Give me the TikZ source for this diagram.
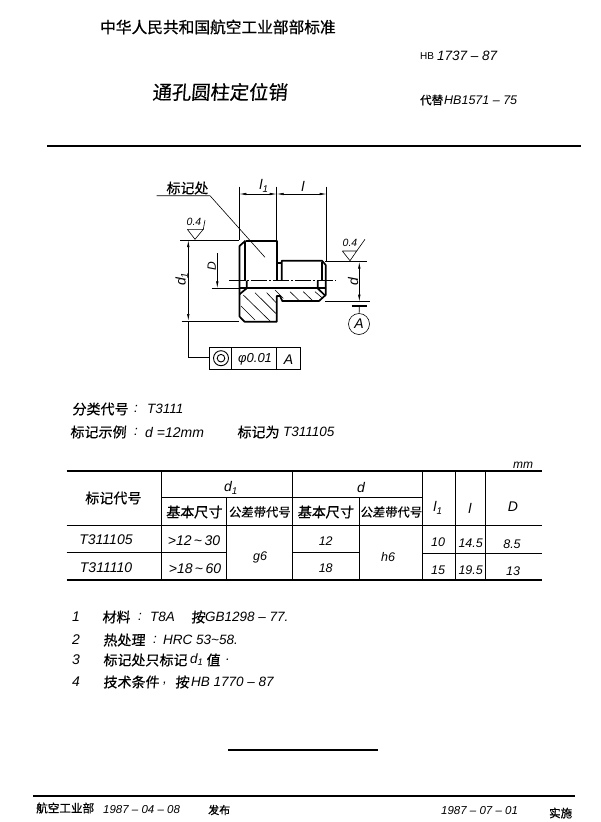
\documentclass[tikz,border=0pt]{standalone}
\usepackage{fontspec}
\setmainfont{Liberation Sans}
\newfontfamily\cjk[FakeSlant=0.08,FakeBold=0.4]{Noto Sans CJK SC}
\newfontfamily\cjkhead[FakeBold=0.7]{Noto Sans CJK SC}
\usetikzlibrary{calc}
\usetikzlibrary{arrows.meta}

\tikzset{
  outline/.style={black, line width=1.7pt, line join=round},
  thinline/.style={black, line width=0.6pt},
  hatchline/.style={black, line width=0.6pt},
  axisline/.style={black, line width=0.6pt, dash pattern=on 16pt off 2pt on 2pt off 2pt},
  dimline/.style={black, line width=0.6pt, {Latex[length=7pt,width=2.5pt]}-{Latex[length=7pt,width=2.5pt]}},
  rulethick/.style={black, line width=1.5pt},
  hand/.style={inner sep=0, anchor=west, font=\fontsize{14}{14}\selectfont\cjk},
  handsmall/.style={inner sep=0, font=\fontsize{12.3}{13}\selectfont\cjk},
  numtext/.style={inner sep=0, anchor=west, font=\fontsize{13.5}{14}\selectfont\itshape},
  celltext/.style={inner sep=0, font=\fontsize{12.5}{13}\selectfont\itshape},
  dimtext/.style={inner sep=0, font=\fontsize{14}{14}\selectfont\itshape},
}

\begin{document}
\begin{tikzpicture}[x=1pt, y=-1pt]
\useasboundingbox (0,0) rectangle (600,822);

% header
\node[inner sep=0, anchor=west, font=\fontsize{15.7}{16}\selectfont\cjkhead] (head) at (100,27) {中华人民共和国航空工业部部标准};
\node[inner sep=0, anchor=west, font=\fontsize{10}{10}\selectfont] (hbtag) at (420,56) {HB};
\node[numtext] (hbnum) at (437,56) {1737 – 87};
\node[hand, font=\fontsize{19.3}{20}\selectfont\cjk] (title) at (152,92) {通孔圆柱定位销};
\node[inner sep=0, anchor=west, font=\fontsize{11.5}{12}\selectfont\cjkhead] (subst) at (420,100) {代替};
\node[numtext, font=\fontsize{12.5}{13}\selectfont\itshape] (substnum) at (444,100) {HB1571 – 75};
\coordinate (ruleA) at (47,146);
\coordinate (ruleB) at (581,146);
\draw[rulethick] (ruleA) -- (ruleB);

% part
\draw[outline] (245.5,240.7) -- (276.7,240.7) -- (276.7,280.5);
\draw[outline] (245.5,240.7) -- (239.5,246) -- (239.5,316.5) -- (244.5,321.7) -- (276.7,321.7) -- (276.7,296)
  -- (280,296) -- (282.3,301) -- (319,301) -- (325.7,295) -- (325.7,265) -- (322,260.7) -- (281.7,260.7) -- (281.7,280.5);
\draw[outline] (276.7,263.3) -- (281.7,263.3);
\draw[outline] (239.5,288.3) -- (325.7,288.3);
\draw[outline] (245,241.7) -- (245,280.5);
\draw[outline] (246.7,280.5) -- (246.7,288.3) -- (239.5,294.3);
\draw[outline] (322,262) -- (322,280.5);
\draw[outline] (317.7,280.5) -- (317.7,288.3) -- (324.5,295);

\foreach \xa/\ya/\xb/\yb in {243.3/295/270.7/321.7, 255/292.7/275.7/313.3, 266.7/292.7/276.7/303.3, 241/306/255/320,
  275/290/283.3/298.3, 290/291.7/299.3/300.7, 303.3/291.7/312.7/300.7, 315/291.7/322.7/298.3}
  \draw[hatchline] (\xa,\ya) -- (\xb,\yb);

\draw[axisline] (229.3,280.7) -- (336,280.7);

% dimensions on top
\draw[thinline] (239.4,186.7) -- (239.4,240);
\draw[thinline] (276.7,186.7) -- (276.7,240);
\draw[thinline] (326.7,186.7) -- (326.7,261.7);
\draw[dimline] (239.4,194) -- (276.7,194);
\draw[dimline] (276.7,194) -- (326.7,194);
\node[dimtext] (lonetop) at (264,186) {l\textsubscript{1}};
\node[dimtext] (ltop) at (303,186) {l};

% marking leader
\node[hand] (mark) at (166,188) {标记处};
\coordinate (markA) at (156.7,195.7);
\coordinate (markB) at (210,195.7);
\coordinate (markC) at (265,257.3);
\draw[thinline] (markA) -- (markB) -- (markC);

% dimension d1 and frame
\draw[thinline] (180,240) -- (239,240);
\draw[thinline] (181.7,321) -- (239,321);
\draw[dimline] (188.3,240) -- (188.3,321);
\coordinate (frameleg) at (188.3,357.7);
\coordinate (framefoot) at (209,357.7);
\draw[thinline] (188.3,321) -- (frameleg) -- (framefoot);
\node[dimtext, rotate=90] (donetext) at (181.7,279) {d\textsubscript{1}};

% dimension D
\draw[thinline] (211.7,288.3) -- (239,288.3);
\draw[thinline, -{Latex[length=7pt,width=2.5pt]}] (217.3,253) -- (217.3,288.3);
\node[dimtext, rotate=90, font=\fontsize{12}{12}\selectfont\itshape] (Dtext) at (211.7,266.5) {D};

% dimension d
\draw[thinline] (325,261.7) -- (366.7,261.7);
\draw[thinline] (325,301.7) -- (370,301.7);
\draw[dimline] (359.3,261.7) -- (359.3,301.7);
\node[dimtext, rotate=90] (dtext) at (353,282) {d};

% roughness marks
\draw[thinline] (187.3,229.3) -- (203.3,229.3) -- (195,239.3) -- (187.3,229.3);
\draw[thinline] (203.3,229.3) -- (205,220);
\node[numtext, font=\fontsize{10.5}{11}\selectfont\itshape] (roughA) at (186.5,222) {0.4};
\draw[thinline] (342.3,251) -- (356.7,251) -- (350,260.7) -- (342.3,251);
\draw[thinline] (356.7,251) -- (365,239.3);
\node[numtext, font=\fontsize{10.5}{11}\selectfont\itshape] (roughB) at (342.5,242.5) {0.4};

% datum
\draw[black, line width=2pt] (351.7,305.7) -- (367.3,305.7);
\node[circle, draw, thinline, minimum size=21pt, inner sep=0, font=\fontsize{14}{14}\selectfont\itshape] (datum) at (359,324) {A};
\draw[thinline] (359.3,305.7) -- (datum);

% tolerance frame
\draw[thinline] (209,347.7) rectangle (300,369);
\draw[thinline] (231.7,347.7) -- (231.7,369);
\draw[thinline] (276.7,347.7) -- (276.7,369);
\draw[black, line width=0.9pt] (221,358.2) circle (7.5pt);
\draw[black, line width=0.9pt] (221,358.2) circle (3.8pt);
\node[numtext, font=\fontsize{13}{13}\selectfont\itshape] (frametol) at (238,359) {φ0.01};
\node[dimtext] (frameA) at (288.5,359.5) {A};

% classification
\node[hand] (classlbl) at (72,409) {分类代号};
\node[numtext] (classcol) at (134,409) {:};
\node[numtext] (classval) at (147,409) {T3111};
\node[hand] (samplelbl) at (70,432) {标记示例};
\node[numtext] (samplecol) at (134,432) {:};
\node[numtext, font=\fontsize{14}{14}\selectfont\itshape] (sampleval) at (145,432) {d =12mm};
\node[hand] (sampleis) at (237,432) {标记为};
\node[numtext] (samplecode) at (283,432) {T311105};

% table
\draw[rulethick] (66.7,471) -- (541.7,471);
\draw[rulethick] (66.7,580) -- (541.7,580);
\draw[thinline] (66.7,525.7) -- (541.7,525.7);
\draw[thinline] (161.7,497.7) -- (422.3,497.7);
\draw[thinline] (66.7,552.3) -- (226.7,552.3);
\draw[thinline] (292.3,552.3) -- (359,552.3);
\draw[thinline] (422.3,553.5) -- (541.7,553.5);
\foreach \x in {161.7, 292.3, 422.3, 455, 485.7}
  \draw[thinline] (\x,471) -- (\x,580);
\foreach \x in {226.7, 359}
  \draw[thinline] (\x,497.7) -- (\x,580);

\node[hand, anchor=center] (hcode) at (113,498) {标记代号};
\node[dimtext] (hdone) at (231,488) {d\textsubscript{1}};
\node[dimtext] (hd) at (361,487) {d};
\node[hand, anchor=center] (hbaseA) at (194,512) {基本尺寸};
\node[handsmall] (htolA) at (259.5,512) {公差带代号};
\node[hand, anchor=center] (hbaseB) at (325.5,512) {基本尺寸};
\node[handsmall] (htolB) at (391,512) {公差带代号};
\node[dimtext] (hlone) at (438,508) {l\textsubscript{1}};
\node[dimtext] (hl) at (470,508) {l};
\node[dimtext] (hD) at (513,507) {D};

\foreach \x/\y/\t [count=\i] in {106/540/T311105, 106/568/T311110, 194/540.7/{>12\,\textasciitilde\,30}, 195/569/{>18\,\textasciitilde\,60}}
  \node[celltext, font=\fontsize{14}{14}\selectfont\itshape] (code\i) at (\x,\y) {\t};
\foreach \x/\y/\t [count=\i] in {260/557/g6, 325.7/540.7/12, 325.7/568/18, 388/557/h6,
  438/541.7/10, 470.7/543/14.5, 512/544/8.5, 438/570/15, 470.7/570/19.5, 513/570.7/13}
  \node[celltext] (cell\i) at (\x,\y) {\t};
\node[celltext, font=\fontsize{12}{12}\selectfont\itshape] (unit) at (523,465) {mm};

% notes
\foreach \y/\n [count=\i] in {617/1, 640/2, 660/3, 682/4}
  \node[numtext, font=\fontsize{14}{14}\selectfont\itshape] (notenum\i) at (72,\y) {\n};
\node[hand] (noteA) at (102,617) {材料};
\node[numtext] (noteAcol) at (138,617) {:};
\node[numtext] (noteAval) at (150,617) {T8A};
\node[hand] (noteAby) at (191,617) {按};
\node[numtext] (noteAstd) at (205,617) {GB1298 – 77.};
\node[hand] (noteB) at (103,640) {热处理};
\node[numtext] (noteBcol) at (153,640) {:};
\node[numtext] (noteBval) at (163,640) {HRC 53\textasciitilde58.};
\node[hand] (noteC) at (103,660) {标记处只标记};
\node[numtext] (noteCval) at (190,660) {d\textsubscript{1}};
\node[hand] (noteCend) at (206,660) {值};
\node[numtext] (noteCdot) at (226,660) {.};
\node[hand] (noteD) at (103,682) {技术条件};
\node[numtext] (noteDcom) at (163,684) {,};
\node[hand] (noteDby) at (175,682) {按};
\node[numtext] (noteDstd) at (191,682) {HB 1770 – 87};

% footer
\coordinate (endA) at (228,750);
\coordinate (endB) at (378,750);
\draw[black, line width=1.8pt] (endA) -- (endB);
\coordinate (footA) at (33,796);
\coordinate (footB) at (575,796);
\draw[rulethick] (footA) -- (footB);
\node[inner sep=0, anchor=west, font=\fontsize{11.6}{12}\selectfont\cjkhead] (ministry) at (36,808) {航空工业部};
\node[numtext, font=\fontsize{11.5}{12}\selectfont\itshape] (issued) at (103,810) {1987 – 04 – 08};
\node[inner sep=0, anchor=west, font=\fontsize{11}{12}\selectfont\cjkhead] (issuedlbl) at (208,810) {发布};
\node[numtext, font=\fontsize{11.5}{12}\selectfont\itshape] (applied) at (441,811) {1987 – 07 – 01};
\node[inner sep=0, anchor=west, font=\fontsize{11.5}{12}\selectfont\cjkhead] (appliedlbl) at (549,813) {实施};

\end{tikzpicture}
\end{document}
